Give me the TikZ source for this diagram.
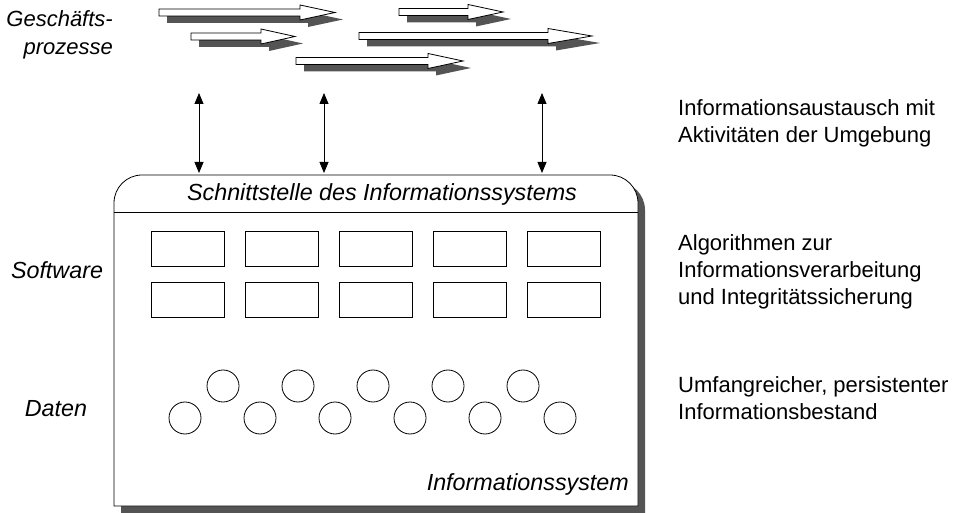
\documentclass[tikz,border=0pt]{standalone}
\usepackage{fontspec}
\setmainfont{Liberation Sans}
\usetikzlibrary{arrows.meta}
\tikzset{
  modul/.style={draw,line width=0.8bp,minimum width=73bp,minimum height=35bp,inner sep=0pt},
  datum/.style={circle,draw,line width=0.8bp,minimum size=32bp,inner sep=0pt},
  schatten/.style={fill=black!67},
  beschr/.style={font=\fontsize{23.3bp}{28bp}\selectfont\itshape,inner sep=0pt},
  erkl/.style={font=\fontsize{22bp}{27bp}\selectfont,align=left,anchor=west,inner sep=0pt},
  austausch/.style={<->,>={Triangle[length=11bp,width=9bp]},line width=0.8bp}
}
% outline of one process arrow: tail, head base, tip, middle y
\newcommand{\pfeilform}[4]{(#1,{#4-3.5}) -- (#2,{#4-3.5}) -- (#2,{#4-7.5}) -- (#3,#4)
  -- (#2,{#4+7.5}) -- (#2,{#4+3.5}) -- (#1,{#4+3.5}) -- cycle}
\newcommand{\prozesspfeil}[4]{%
  \fill[schatten,shift={(8,7)}] \pfeilform{#1}{#2}{#3}{#4};
  \draw[fill=white,line width=0.8bp] \pfeilform{#1}{#2}{#3}{#4};
}

\begin{document}
\begin{tikzpicture}[x=1bp,y=-1bp]

    \useasboundingbox (0,0) rectangle (980,513);

    % Define the edges of the information system box
    \def\xl{114}   % left edge
    \def\xr{638}   % right edge
    \def\yo{175}   % top edge
    \def\yt{212}   % line below the interface
    \def\yu{506}   % bottom edge

    % -- Business processes (arrows with shadow) --
    \prozesspfeil{159}{300}{335}{12.5}
    \prozesspfeil{399}{468}{503}{12}
    \prozesspfeil{191}{261}{295}{36.5}
    \prozesspfeil{359}{548}{592}{36}
    \prozesspfeil{296}{428}{463}{61}

    % -- Box with shadow, rounded at the top --
    \fill[schatten,shift={(7,7)}] (\xl,\yu) [rounded corners=28bp] -- (\xl,\yo)
      -- (\xr,\yo) [sharp corners] -- (\xr,\yu) -- cycle;
    \draw[fill=white,line width=0.8bp] (\xl,\yu) [rounded corners=28bp] -- (\xl,\yo)
      -- (\xr,\yo) [sharp corners] -- (\xr,\yu) -- cycle;
    \draw[line width=0.8bp] (\xl,\yt) -- (\xr,\yt);

    % -- Exchange between processes and interface --
    \coordinate (oben1) at (199,93);
    \coordinate (unten1) at (199,173);
    \coordinate (oben2) at (324,93);
    \coordinate (unten2) at (324,173);
    \coordinate (oben3) at (542,93);
    \coordinate (unten3) at (542,173);
    \draw[austausch] (oben1) -- (unten1);
    \draw[austausch] (oben2) -- (unten2);
    \draw[austausch] (oben3) -- (unten3);

    % -- Software modules (two rows) --
    \node[modul] (m11) at (187.5,248.5) {};
    \node[modul] (m12) at (281.5,248.5) {};
    \node[modul] (m13) at (375.5,248.5) {};
    \node[modul] (m14) at (469.5,248.5) {};
    \node[modul] (m15) at (563.5,248.5) {};
    \node[modul] (m21) at (187.5,300) {};
    \node[modul] (m22) at (281.5,300) {};
    \node[modul] (m23) at (375.5,300) {};
    \node[modul] (m24) at (469.5,300) {};
    \node[modul] (m25) at (563.5,300) {};

    % -- Data (upper and lower row of circles) --
    \node[datum] (d1) at (185,418) {};
    \node[datum] (d2) at (223,386) {};
    \node[datum] (d3) at (260,418) {};
    \node[datum] (d4) at (298,386) {};
    \node[datum] (d5) at (335,418) {};
    \node[datum] (d6) at (373,386) {};
    \node[datum] (d7) at (410,418) {};
    \node[datum] (d8) at (448,386) {};
    \node[datum] (d9) at (485,418) {};
    \node[datum] (d10) at (523,386) {};
    \node[datum] (d11) at (560,418) {};

    % -- Labels on the left and inside the box --
    \node[beschr,font=\fontsize{22bp}{28bp}\selectfont\itshape,align=right,anchor=east] (gp) at (113,35) {Geschäfts-\\prozesse};
    \node[beschr] (sw) at (57,270) {Software};
    \node[beschr] (dat) at (56,409) {Daten};
    \node[beschr] (schnitt) at (382,194) {Schnittstelle des Informationssystems};
    \node[beschr,anchor=east] (is) at (629,484) {Informationssystem};

    % -- Explanations on the right --
    \node[erkl] (e1) at (678,123.5) {Informationsaustausch mit\\Aktivitäten der Umgebung};
    \node[erkl] (e2) at (678,271.5) {Algorithmen zur\\Informationsverarbeitung\\und Integritätssicherung};
    \node[erkl] (e3) at (678,398) {Umfangreicher, persistenter\\Informationsbestand};

\end{tikzpicture}
\end{document}
